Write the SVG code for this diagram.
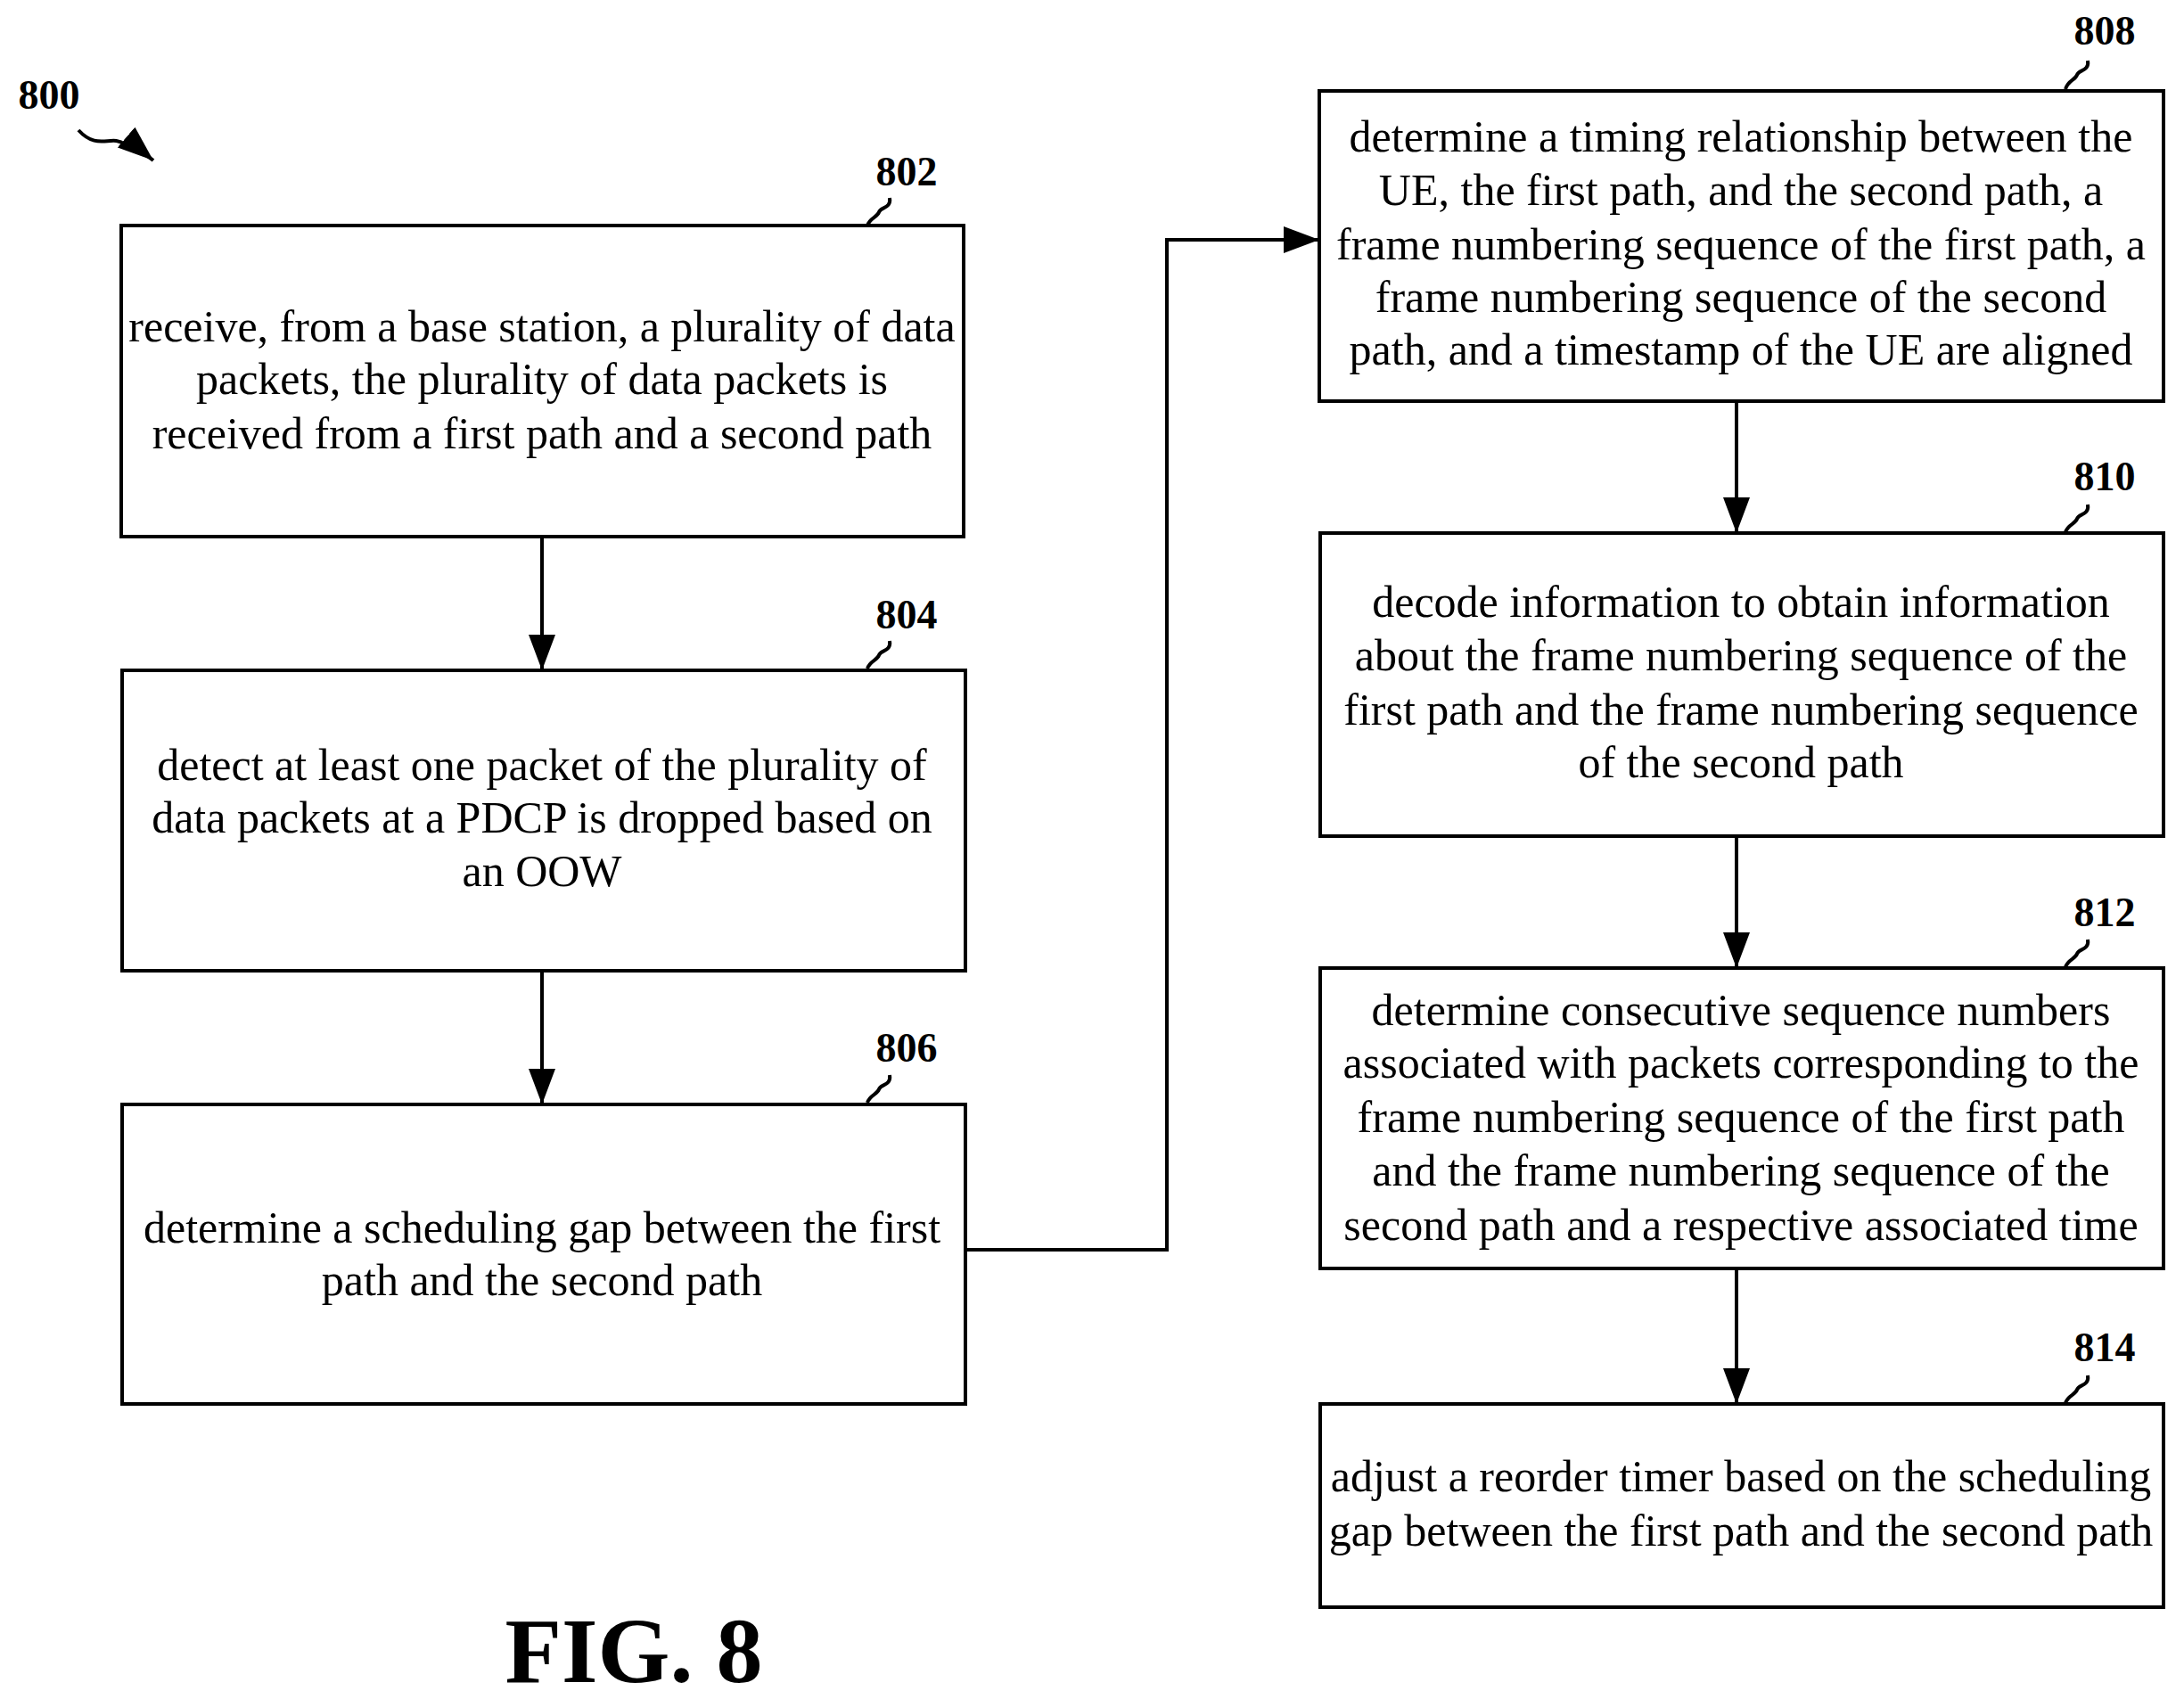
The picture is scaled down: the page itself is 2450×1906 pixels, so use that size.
<svg xmlns="http://www.w3.org/2000/svg" width="2450" height="1906" viewBox="0 0 2450 1906">
<style>
.b{fill:#fff;stroke:#000;stroke-width:4}
.t{font-family:"Liberation Serif",serif;font-size:50px;text-anchor:middle}
.l{font-family:"Liberation Serif",serif;font-size:46px;font-weight:bold;text-anchor:middle}
.s{fill:none;stroke:#000;stroke-width:4}
.c{fill:none;stroke:#000;stroke-width:4}
</style>
<defs>
<marker id="m" viewBox="0 0 10 10" refX="10" refY="5" markerWidth="40" markerHeight="30" orient="auto" markerUnits="userSpaceOnUse" preserveAspectRatio="none"><path d="M0,0L10,5L0,10z"/></marker></defs>
<rect width="2450" height="1906" fill="#fff"/>
<text class="l" x="55" y="122">800</text>
<path d="M88,146 C110,170 125,150 140,162 C150,170 158,168 172,180" class="s" stroke-width="5" marker-end="url(#m)"/>
<g id="connectors">
<path class="c" d="M608,602V752" marker-end="url(#m)"/>
<path class="c" d="M608,1089V1239" marker-end="url(#m)"/>
<path class="c" d="M1083,1402H1309V269H1480" marker-end="url(#m)"/>
<path class="c" d="M1948,450V598" marker-end="url(#m)"/>
<path class="c" d="M1948,938V1086" marker-end="url(#m)"/>
<path class="c" d="M1948,1423V1575" marker-end="url(#m)"/>
</g>
<g id="n802"><rect class="b" x="136" y="253" width="945" height="349"/>
<text class="l" x="1017" y="208">802</text><path class="s" d="M998,222c2,12-10,10-12,16s-10,6-13,15"/>
<text class="t" x="608" y="383">receive, from a base station, a plurality of data</text>
<text class="t" x="608" y="442">packets, the plurality of data packets is</text>
<text class="t" x="608" y="503">received from a first path and a second path</text></g>
<g id="n804"><rect class="b" x="137" y="752" width="946" height="337"/>
<text class="l" x="1017" y="705">804</text><path class="s" d="M998,719c2,12-10,10-12,16s-10,6-13,15"/>
<text class="t" x="608" y="875">detect at least one packet of the plurality of</text>
<text class="t" x="608" y="934">data packets at a PDCP is dropped based on</text>
<text class="t" x="608" y="994">an OOW</text></g>
<g id="n806"><rect class="b" x="137" y="1239" width="946" height="336"/>
<text class="l" x="1017" y="1191">806</text><path class="s" d="M998,1206c2,12-10,10-12,16s-10,6-13,15"/>
<text class="t" x="608" y="1394">determine a scheduling gap between the first</text>
<text class="t" x="608" y="1453">path and the second path</text></g>
<g id="n808"><rect class="b" x="1480" y="102" width="947" height="348"/>
<text class="l" x="2361" y="50">808</text><path class="s" d="M2342,68c2,12-10,10-12,16s-10,6-13,16"/>
<text class="t" x="1953" y="170">determine a timing relationship between the</text>
<text class="t" x="1953" y="230">UE, the first path, and the second path, a</text>
<text class="t" x="1953" y="291">frame numbering sequence of the first path, a</text>
<text class="t" x="1953" y="350">frame numbering sequence of the second</text>
<text class="t" x="1953" y="409">path, and a timestamp of the UE are aligned</text></g>
<g id="n810"><rect class="b" x="1481" y="598" width="946" height="340"/>
<text class="l" x="2361" y="550">810</text><path class="s" d="M2342,566c2,12-10,10-12,16s-10,6-13,15"/>
<text class="t" x="1953" y="692">decode information to obtain information</text>
<text class="t" x="1953" y="752">about the frame numbering sequence of the</text>
<text class="t" x="1953" y="813">first path and the frame numbering sequence</text>
<text class="t" x="1953" y="872">of the second path</text></g>
<g id="n812"><rect class="b" x="1481" y="1086" width="946" height="337"/>
<text class="l" x="2361" y="1039">812</text><path class="s" d="M2342,1054c2,12-10,10-12,16s-10,6-13,15"/>
<text class="t" x="1953" y="1150">determine consecutive sequence numbers</text>
<text class="t" x="1953" y="1209">associated with packets corresponding to the</text>
<text class="t" x="1953" y="1270">frame numbering sequence of the first path</text>
<text class="t" x="1953" y="1330">and the frame numbering sequence of the</text>
<text class="t" x="1953" y="1391">second path and a respective associated time</text></g>
<g id="n814"><rect class="b" x="1481" y="1575" width="946" height="228"/>
<text class="l" x="2361" y="1527">814</text><path class="s" d="M2342,1543c2,12-10,10-12,16s-10,6-13,15"/>
<text class="t" x="1953" y="1673">adjust a reorder timer based on the scheduling</text>
<text class="t" x="1953" y="1734">gap between the first path and the second path</text></g>
<text x="711" y="1887" font-family="Liberation Serif,serif" font-weight="bold" font-size="104" text-anchor="middle">FIG. 8</text>
</svg>
